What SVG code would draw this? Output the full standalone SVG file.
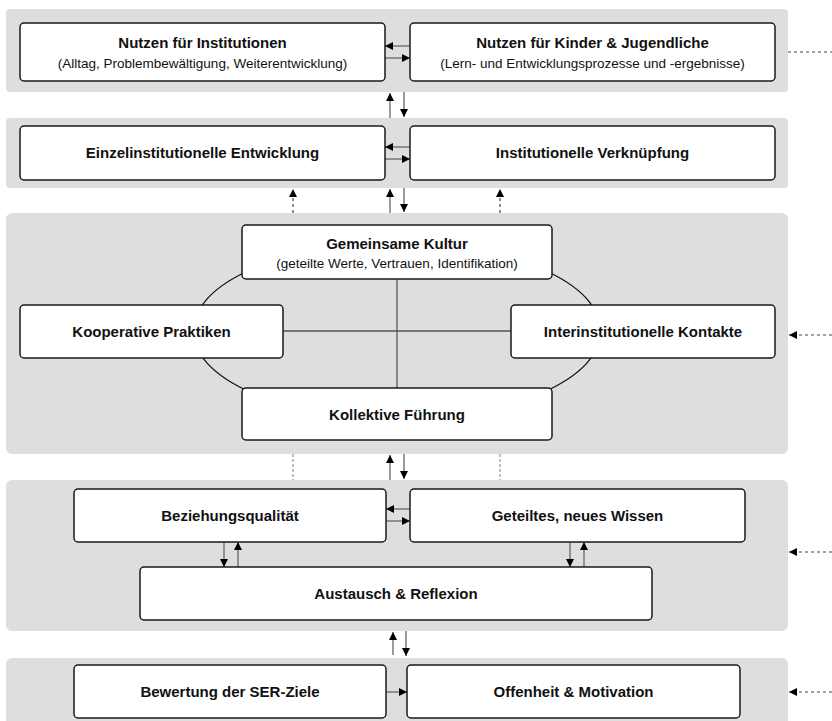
<svg xmlns="http://www.w3.org/2000/svg" width="832" height="721" viewBox="0 0 832 721">
<style>
.band{fill:#dedede;}
.box{fill:#ffffff;stroke:#1a1a1a;stroke-width:1.5;}
.t{font-family:"Liberation Sans",Arial,sans-serif;font-weight:bold;font-size:15px;fill:#111;text-anchor:middle;}
.s{font-family:"Liberation Sans",Arial,sans-serif;font-size:13.5px;fill:#111;text-anchor:middle;}
.a{stroke:#666;stroke-width:1.3;fill:none;}
.d{stroke:#444;stroke-width:1.2;fill:none;stroke-dasharray:3,3;}
.g{stroke:#999;stroke-width:1.2;fill:none;stroke-dasharray:3,2;}
.x{stroke:#555;stroke-width:1.3;fill:none;}
</style>
<defs>
<marker id="ah" viewBox="0 0 8 8" refX="8" refY="4" markerWidth="8" markerHeight="8" markerUnits="userSpaceOnUse" orient="auto">
<path d="M0,0 L8,4 L0,8 z" fill="#000"/>
</marker>
</defs>
<g id="bands">
<rect class="band" x="6" y="9" width="782" height="83" rx="4"/>
<rect class="band" x="6" y="118" width="782" height="70" rx="4"/>
<rect class="band" x="6" y="213" width="782" height="241" rx="6"/>
<rect class="band" x="6" y="480" width="782" height="151" rx="6"/>
<rect class="band" x="6" y="658" width="782" height="72" rx="6"/>
</g>
<g id="ellipse-cross">
<ellipse cx="397" cy="331" rx="204" ry="88" fill="none" stroke="#111" stroke-width="1.3"/>
<line class="x" x1="397" y1="279" x2="397" y2="388"/>
<line class="x" x1="283" y1="331" x2="511" y2="331"/>
</g>
<g id="connectors">
<line class="a" x1="410" y1="46" x2="385" y2="46" marker-end="url(#ah)"/>
<line class="a" x1="385" y1="58" x2="410" y2="58" marker-end="url(#ah)"/>
<line class="a" x1="390" y1="118" x2="390" y2="93" marker-end="url(#ah)"/>
<line class="a" x1="404" y1="92" x2="404" y2="117" marker-end="url(#ah)"/>
<line class="a" x1="410" y1="147" x2="385" y2="147" marker-end="url(#ah)"/>
<line class="a" x1="385" y1="159" x2="410" y2="159" marker-end="url(#ah)"/>
<line class="a" x1="390" y1="213" x2="390" y2="189" marker-end="url(#ah)"/>
<line class="a" x1="404" y1="188" x2="404" y2="212" marker-end="url(#ah)"/>
<line class="d" x1="293" y1="213" x2="293" y2="189" marker-end="url(#ah)"/>
<line class="d" x1="500" y1="213" x2="500" y2="189" marker-end="url(#ah)"/>
<line class="a" x1="390" y1="480" x2="390" y2="455" marker-end="url(#ah)"/>
<line class="a" x1="404" y1="454" x2="404" y2="479" marker-end="url(#ah)"/>
<line class="g" x1="293" y1="454" x2="293" y2="480"/>
<line class="g" x1="500" y1="454" x2="500" y2="480"/>
<line class="a" x1="410" y1="509" x2="386" y2="509" marker-end="url(#ah)"/>
<line class="a" x1="386" y1="521" x2="410" y2="521" marker-end="url(#ah)"/>
<line class="a" x1="224" y1="542" x2="224" y2="567" marker-end="url(#ah)"/>
<line class="a" x1="238" y1="567" x2="238" y2="542" marker-end="url(#ah)"/>
<line class="a" x1="570" y1="542" x2="570" y2="567" marker-end="url(#ah)"/>
<line class="a" x1="584" y1="567" x2="584" y2="542" marker-end="url(#ah)"/>
<line class="a" x1="393" y1="655" x2="393" y2="632" marker-end="url(#ah)"/>
<line class="a" x1="406" y1="631" x2="406" y2="656" marker-end="url(#ah)"/>
<line class="a" x1="386" y1="692" x2="407" y2="692" marker-end="url(#ah)"/>
<line class="d" x1="788" y1="52" x2="832" y2="52"/>
<line class="d" x1="832" y1="335" x2="789" y2="335" marker-end="url(#ah)"/>
<line class="d" x1="832" y1="552" x2="789" y2="552" marker-end="url(#ah)"/>
<line class="d" x1="832" y1="692" x2="789" y2="692" marker-end="url(#ah)"/>
</g>
<g id="nutzen-institutionen">
<rect class="box" x="20" y="23" width="365" height="58" rx="4"/>
<text class="t" x="202.5" y="48">Nutzen für Institutionen</text>
<text class="s" x="202.5" y="68">(Alltag, Problembewältigung, Weiterentwicklung)</text>
</g>
<g id="nutzen-kinder">
<rect class="box" x="410" y="23" width="365" height="58" rx="4"/>
<text class="t" x="592.5" y="48">Nutzen für Kinder &amp; Jugendliche</text>
<text class="s" x="592.5" y="68">(Lern- und Entwicklungsprozesse und -ergebnisse)</text>
</g>
<g id="einzel">
<rect class="box" x="20" y="126" width="365" height="54" rx="4"/>
<text class="t" x="202.5" y="158">Einzelinstitutionelle Entwicklung</text>
</g>
<g id="verknuepfung">
<rect class="box" x="410" y="126" width="365" height="54" rx="4"/>
<text class="t" x="592.5" y="158">Institutionelle Verknüpfung</text>
</g>
<g id="kultur">
<rect class="box" x="242" y="225" width="310" height="54" rx="4"/>
<text class="t" x="397" y="249">Gemeinsame Kultur</text>
<text class="s" x="397" y="268">(geteilte Werte, Vertrauen, Identifikation)</text>
</g>
<g id="praktiken">
<rect class="box" x="20" y="305" width="263" height="53" rx="4"/>
<text class="t" x="151.5" y="337">Kooperative Praktiken</text>
</g>
<g id="kontakte">
<rect class="box" x="511" y="305" width="264" height="53" rx="4"/>
<text class="t" x="643" y="337">Interinstitutionelle Kontakte</text>
</g>
<g id="fuehrung">
<rect class="box" x="242" y="388" width="310" height="52" rx="4"/>
<text class="t" x="397" y="420">Kollektive Führung</text>
</g>
<g id="beziehung">
<rect class="box" x="74" y="489" width="312" height="53" rx="4"/>
<text class="t" x="230" y="521">Beziehungsqualität</text>
</g>
<g id="wissen">
<rect class="box" x="410" y="489" width="335" height="53" rx="4"/>
<text class="t" x="577.5" y="521">Geteiltes, neues Wissen</text>
</g>
<g id="austausch">
<rect class="box" x="140" y="567" width="512" height="53" rx="4"/>
<text class="t" x="396" y="599">Austausch &amp; Reflexion</text>
</g>
<g id="bewertung">
<rect class="box" x="74" y="665" width="312" height="53" rx="4"/>
<text class="t" x="230" y="697">Bewertung der SER-Ziele</text>
</g>
<g id="offenheit">
<rect class="box" x="407" y="665" width="333" height="53" rx="4"/>
<text class="t" x="573.5" y="697">Offenheit &amp; Motivation</text>
</g>
</svg>
